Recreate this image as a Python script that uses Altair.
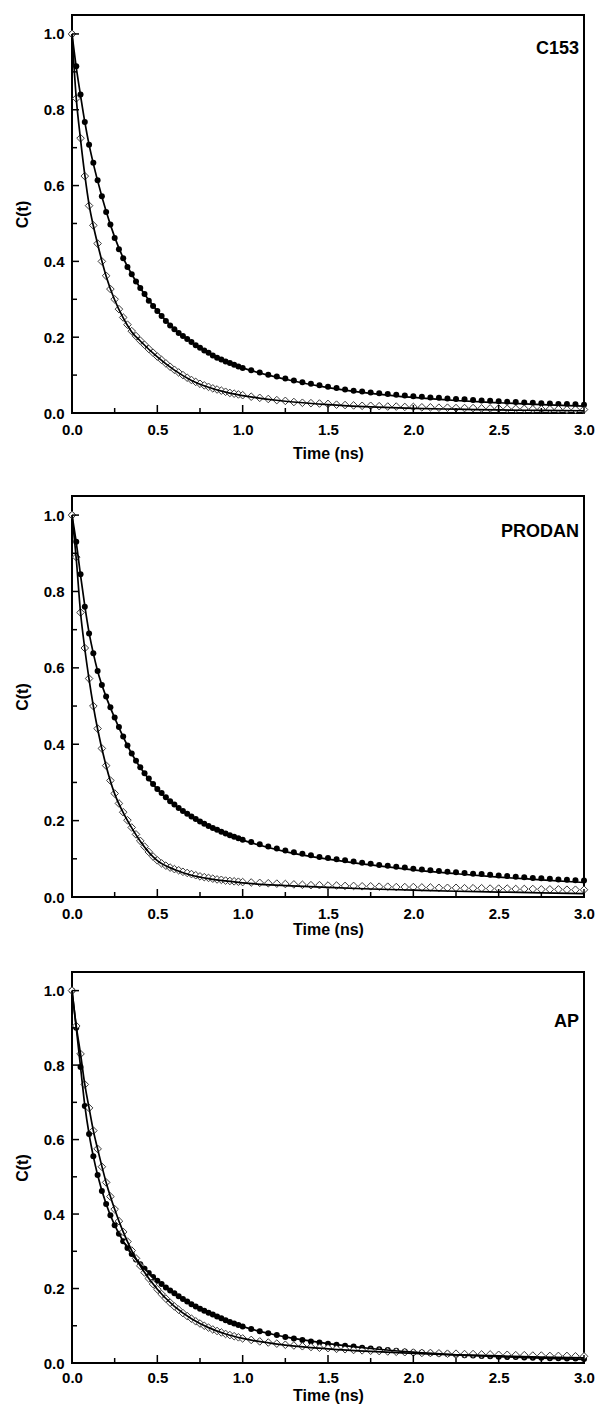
import altair as alt
import pandas as pd

FONT = "Liberation Sans"

# sampling times of the data points (ns)
T = [0.000, 0.025, 0.050, 0.075, 0.100, 0.125, 0.150, 0.175, 0.200, 0.225,
     0.250, 0.275, 0.300, 0.325, 0.350, 0.375, 0.400, 0.425, 0.450, 0.475,
     0.500, 0.525, 0.550, 0.575, 0.600, 0.625, 0.650, 0.675, 0.700, 0.725,
     0.750, 0.775, 0.800, 0.825, 0.850, 0.875, 0.900, 0.925, 0.950, 0.975,
     1.000,
     1.05, 1.10, 1.15, 1.20, 1.25, 1.30, 1.35, 1.40, 1.45, 1.50,
     1.55, 1.60, 1.65, 1.70, 1.75, 1.80, 1.85, 1.90, 1.95, 2.00,
     2.05, 2.10, 2.15, 2.20, 2.25, 2.30, 2.35, 2.40, 2.45, 2.50,
     2.55, 2.60, 2.65, 2.70, 2.75, 2.80, 2.85, 2.90, 2.95, 3.00]

# times of the fitted curves (ns)
FIT_T = [0, 0.025, 0.05, 0.075, 0.1, 0.125, 0.15, 0.2, 0.25, 0.3, 0.35, 0.4,
         0.5, 0.6, 0.7, 0.8, 0.9, 1.0, 1.25, 1.5, 1.75, 2.0, 2.25, 2.5, 2.75, 3.0]

# ---- C153 ----
C153_FILLED = [1.000, 0.915, 0.840, 0.768, 0.708, 0.660, 0.614, 0.572, 0.530, 0.497,
               0.462, 0.432, 0.408, 0.385, 0.366, 0.347, 0.330, 0.314, 0.296, 0.282,
               0.269, 0.256, 0.243, 0.231, 0.221, 0.211, 0.203, 0.195, 0.187, 0.179,
               0.172, 0.165, 0.159, 0.152, 0.146, 0.141, 0.136, 0.132, 0.127, 0.123,
               0.119,
               0.113, 0.107, 0.101, 0.096, 0.091, 0.086, 0.081, 0.077, 0.073, 0.069,
               0.066, 0.062, 0.059, 0.057, 0.054, 0.052, 0.050, 0.048, 0.046, 0.044,
               0.043, 0.041, 0.040, 0.038, 0.037, 0.036, 0.034, 0.033, 0.032, 0.031,
               0.030, 0.029, 0.028, 0.027, 0.026, 0.025, 0.024, 0.024, 0.023, 0.022]
C153_OPEN = [1.000, 0.830, 0.725, 0.625, 0.547, 0.495, 0.447, 0.400, 0.362, 0.327,
             0.300, 0.274, 0.252, 0.233, 0.216, 0.203, 0.191, 0.180, 0.169, 0.159,
             0.149, 0.140, 0.131, 0.122, 0.114, 0.107, 0.100, 0.093, 0.087, 0.082,
             0.077, 0.073, 0.069, 0.065, 0.062, 0.059, 0.056, 0.053, 0.051, 0.049,
             0.047,
             0.043, 0.040, 0.037, 0.034, 0.032, 0.029, 0.027, 0.026, 0.025, 0.024,
             0.022, 0.021, 0.020, 0.019, 0.019, 0.018, 0.017, 0.017, 0.016, 0.016,
             0.015, 0.015, 0.014, 0.014, 0.013, 0.013, 0.013, 0.012, 0.012, 0.012,
             0.011, 0.011, 0.011, 0.010, 0.010, 0.010, 0.010, 0.009, 0.009, 0.009]
C153_FILLED_FIT = [1.0, 0.912, 0.838, 0.768, 0.708, 0.658, 0.613, 0.532, 0.464, 0.409,
                   0.366, 0.330, 0.269, 0.221, 0.187, 0.159, 0.136, 0.119, 0.089, 0.067,
                   0.052, 0.041, 0.033, 0.027, 0.022, 0.018]
C153_OPEN_FIT = [1.0, 0.830, 0.722, 0.628, 0.550, 0.494, 0.446, 0.361, 0.298, 0.251,
                 0.214, 0.190, 0.148, 0.113, 0.086, 0.068, 0.055, 0.046, 0.031, 0.022,
                 0.016, 0.012, 0.010, 0.008, 0.007, 0.006]

# ---- PRODAN ----
PRODAN_FILLED = [1.000, 0.930, 0.845, 0.760, 0.690, 0.638, 0.592, 0.555, 0.525, 0.497,
                 0.470, 0.445, 0.420, 0.397, 0.376, 0.357, 0.340, 0.324, 0.310, 0.296,
                 0.283, 0.272, 0.261, 0.251, 0.242, 0.233, 0.225, 0.218, 0.211, 0.204,
                 0.198, 0.192, 0.186, 0.181, 0.176, 0.171, 0.166, 0.162, 0.158, 0.154,
                 0.150,
                 0.144, 0.138, 0.132, 0.127, 0.122, 0.117, 0.113, 0.109, 0.105, 0.102,
                 0.099, 0.096, 0.093, 0.090, 0.087, 0.084, 0.082, 0.079, 0.077, 0.074,
                 0.072, 0.070, 0.068, 0.066, 0.065, 0.063, 0.061, 0.060, 0.058, 0.056,
                 0.055, 0.053, 0.052, 0.050, 0.049, 0.048, 0.046, 0.045, 0.044, 0.043]
PRODAN_OPEN = [1.000, 0.890, 0.745, 0.652, 0.572, 0.500, 0.441, 0.389, 0.344, 0.305,
               0.271, 0.245, 0.222, 0.201, 0.182, 0.164, 0.147, 0.132, 0.118, 0.106,
               0.096, 0.088, 0.082, 0.077, 0.073, 0.070, 0.066, 0.063, 0.060, 0.057,
               0.054, 0.052, 0.050, 0.048, 0.046, 0.045, 0.043, 0.042, 0.041, 0.040,
               0.039,
               0.038, 0.037, 0.036, 0.035, 0.034, 0.033, 0.032, 0.031, 0.031, 0.030,
               0.030, 0.029, 0.029, 0.028, 0.028, 0.027, 0.027, 0.026, 0.026, 0.026,
               0.025, 0.025, 0.024, 0.024, 0.024, 0.023, 0.023, 0.023, 0.022, 0.022,
               0.022, 0.021, 0.021, 0.021, 0.020, 0.020, 0.020, 0.019, 0.019, 0.019]
PRODAN_FILLED_FIT = [1.0, 0.928, 0.843, 0.762, 0.692, 0.638, 0.592, 0.524, 0.469, 0.419,
                     0.375, 0.339, 0.282, 0.241, 0.210, 0.185, 0.165, 0.149, 0.119, 0.099,
                     0.084, 0.071, 0.061, 0.052, 0.045, 0.038]
PRODAN_OPEN_FIT = [1.0, 0.885, 0.745, 0.650, 0.570, 0.500, 0.440, 0.343, 0.270, 0.221,
                   0.181, 0.146, 0.095, 0.072, 0.057, 0.048, 0.042, 0.037, 0.030, 0.025,
                   0.021, 0.018, 0.015, 0.013, 0.011, 0.009]

# ---- AP ----
AP_FILLED = [1.000, 0.900, 0.795, 0.690, 0.615, 0.555, 0.505, 0.462, 0.427, 0.397,
             0.370, 0.347, 0.327, 0.309, 0.293, 0.278, 0.265, 0.253, 0.242, 0.231,
             0.221, 0.212, 0.203, 0.195, 0.187, 0.179, 0.172, 0.165, 0.158, 0.152,
             0.146, 0.140, 0.135, 0.130, 0.125, 0.120, 0.115, 0.110, 0.106, 0.102,
             0.098,
             0.091, 0.085, 0.080, 0.075, 0.070, 0.066, 0.062, 0.058, 0.055, 0.052,
             0.049, 0.046, 0.044, 0.041, 0.039, 0.037, 0.035, 0.033, 0.031, 0.029,
             0.028, 0.026, 0.025, 0.024, 0.022, 0.021, 0.020, 0.019, 0.018, 0.017,
             0.016, 0.016, 0.015, 0.014, 0.014, 0.013, 0.013, 0.012, 0.012, 0.011]
AP_OPEN = [1.000, 0.905, 0.830, 0.748, 0.685, 0.624, 0.575, 0.527, 0.485, 0.447,
           0.413, 0.381, 0.352, 0.326, 0.302, 0.281, 0.261, 0.243, 0.227, 0.212,
           0.198, 0.185, 0.173, 0.162, 0.152, 0.143, 0.134, 0.126, 0.119, 0.112,
           0.106, 0.100, 0.095, 0.090, 0.086, 0.082, 0.078, 0.075, 0.072, 0.069,
           0.066,
           0.062, 0.058, 0.055, 0.052, 0.049, 0.047, 0.045, 0.043, 0.041, 0.040,
           0.038, 0.037, 0.035, 0.034, 0.033, 0.032, 0.031, 0.030, 0.029, 0.028,
           0.027, 0.027, 0.026, 0.025, 0.025, 0.024, 0.024, 0.023, 0.023, 0.022,
           0.022, 0.021, 0.021, 0.020, 0.020, 0.019, 0.019, 0.019, 0.018, 0.018]
AP_FILLED_FIT = [1.0, 0.900, 0.795, 0.692, 0.615, 0.555, 0.505, 0.427, 0.370, 0.327,
                 0.293, 0.265, 0.221, 0.187, 0.158, 0.135, 0.115, 0.098, 0.070, 0.052,
                 0.039, 0.029, 0.022, 0.017, 0.013, 0.010]
AP_OPEN_FIT = [1.0, 0.905, 0.830, 0.748, 0.685, 0.624, 0.575, 0.485, 0.413, 0.352,
               0.302, 0.261, 0.198, 0.152, 0.119, 0.095, 0.078, 0.066, 0.048, 0.038,
               0.031, 0.026, 0.022, 0.019, 0.016, 0.014]

Y_MAJOR = [0.0, 0.2, 0.4, 0.6, 0.8, 1.0]
Y_MINOR = [0.1, 0.3, 0.5, 0.7, 0.9]
X_MAJOR = [0.0, 0.5, 1.0, 1.5, 2.0, 2.5, 3.0]
X_MINOR = [0.25, 0.75, 1.25, 1.75, 2.25, 2.75]

W = 512


def panel(name, filled, opened, filled_fit, open_fit, height, label_y,
          xlab_pad, xtitle_pad):
    xs = alt.Scale(domain=[0, 3], nice=False, zero=False)
    ys = alt.Scale(domain=[0, 1.05], nice=False)

    xaxis = alt.Axis(values=X_MAJOR, format=".1f", title="Time (ns)",
                     grid=False, ticks=False, tickSize=0, domain=False,
                     labelFlush=False, labelOverlap=False,
                     labelPadding=xlab_pad, titlePadding=xtitle_pad)
    yaxis = alt.Axis(values=Y_MAJOR, format=".1f", title="C(t)",
                     grid=False, ticks=False, tickSize=0, domain=False,
                     labelFlush=False, labelOverlap=False,
                     labelPadding=8, titlePadding=13)

    def X(field):
        return alt.X(field, type="quantitative", scale=xs, axis=xaxis)

    def Y(field):
        return alt.Y(field, type="quantitative", scale=ys, axis=yaxis)

    pts_open = pd.DataFrame({"t": T, "c": opened})
    pts_filled = pd.DataFrame({"t": T, "c": filled})
    fits = pd.DataFrame({
        "t": FIT_T + FIT_T,
        "c": filled_fit + open_fit,
        "s": ["filled"] * len(FIT_T) + ["open"] * len(FIT_T),
    })

    circles = alt.Chart(pts_filled).mark_circle(
        size=36, color="black", opacity=1
    ).encode(x=X("t"), y=Y("c"))
    diamonds = alt.Chart(pts_open).mark_point(
        shape="diamond", size=58, filled=True, fill="white",
        stroke="#3a3a3a", strokeWidth=1, opacity=1
    ).encode(x=X("t"), y=Y("c"))
    lines = alt.Chart(fits).mark_line(
        color="black", strokeWidth=1.7, interpolate="monotone"
    ).encode(x=X("t"), y=Y("c"), detail="s:N")

    def yticks(vals, length):
        return alt.Chart(pd.DataFrame({"c": vals})).mark_rule(
            color="black", strokeWidth=1.5
        ).encode(y=Y("c"), x=alt.value(0), x2=alt.value(length))

    def xticks(vals, length):
        return alt.Chart(pd.DataFrame({"t": vals})).mark_rule(
            color="black", strokeWidth=1.5
        ).encode(x=X("t"), y=alt.value(height), y2=alt.value(height - length))

    label = alt.Chart(pd.DataFrame({"name": [name]})).mark_text(
        align="right", baseline="middle", font=FONT, fontSize=18,
        fontWeight="bold", color="black"
    ).encode(x=alt.value(W - 5), y=alt.value(label_y), text="name:N")

    return alt.layer(
        circles, diamonds, lines,
        yticks(Y_MAJOR, 7), yticks(Y_MINOR, 5),
        xticks(X_MAJOR, 8), xticks(X_MINOR, 5),
        label,
    ).properties(width=W, height=height)


p1 = panel("C153", C153_FILLED, C153_OPEN, C153_FILLED_FIT, C153_OPEN_FIT,
           398, 34, 9, 8)
p2 = panel("PRODAN", PRODAN_FILLED, PRODAN_OPEN, PRODAN_FILLED_FIT, PRODAN_OPEN_FIT,
           401, 36, 9, 0)
p3 = panel("AP", AP_FILLED, AP_OPEN, AP_FILLED_FIT, AP_OPEN_FIT,
           391, 50, 7, 2)

chart = alt.vconcat(p1, p2, p3, spacing=33).properties(
    padding={"left": 5, "top": 6, "right": 0, "bottom": 0}
).configure_view(
    stroke="black", strokeWidth=2
).configure_axis(
    labelFont=FONT, labelFontSize=15, labelFontWeight="bold", labelColor="black",
    titleFont=FONT, titleFontSize=16, titleFontWeight="bold", titleColor="black",
)

chart.save("out.html", embed_options={"renderer": "svg", "actions": False})
